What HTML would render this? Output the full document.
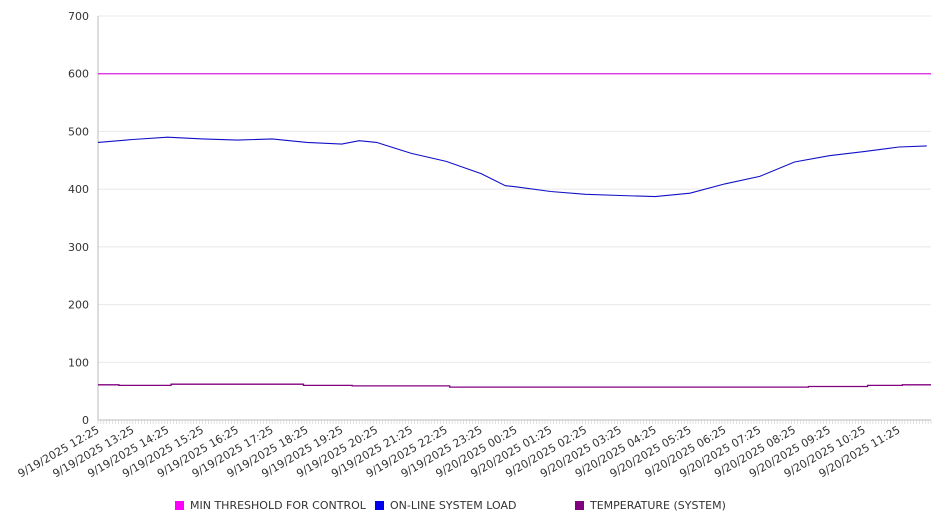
<!DOCTYPE html>
<html><head><meta charset="utf-8"><style>
body{margin:0;background:#fff;}
svg{display:block;font-family:"DejaVu Sans","Liberation Sans",sans-serif;}
</style></head><body>
<svg id="chart" width="946" height="526" xmlns="http://www.w3.org/2000/svg">
<g id="grid"></g>
<g id="yaxis"></g>
<g id="xaxis"></g>
<g id="series"></g>
<g id="legend"></g>
</svg>
<script>
const yTicks=[0,100,200,300,400,500,600,700];
const xLabels=["9/19/2025 12:25","9/19/2025 13:25","9/19/2025 14:25","9/19/2025 15:25","9/19/2025 16:25","9/19/2025 17:25","9/19/2025 18:25","9/19/2025 19:25","9/19/2025 20:25","9/19/2025 21:25","9/19/2025 22:25","9/19/2025 23:25","9/20/2025 00:25","9/20/2025 01:25","9/20/2025 02:25","9/20/2025 03:25","9/20/2025 04:25","9/20/2025 05:25","9/20/2025 06:25","9/20/2025 07:25","9/20/2025 08:25","9/20/2025 09:25","9/20/2025 10:25","9/20/2025 11:25"];
const loadHours=[0,1,2,3,4,5,6,7,7.5,8,9,10,11,11.7,12,13,14,15,16,17,18,19,20,21,22,23,23.8];
const loadValues=[481,486,490,487,485,487,481,478,484,481,462,448,427,406,404,396,391,389,387,393,409,422,447,458,465,473,475];
const tempHours=[0,0.6,2.1,5.9,7.3,10.1,20.4,22.1,23.1,23.8];
const tempValues=[61,60,62,60,59,57,58,60,61,61];
const thresholdValue=600;
const totalHours=23.92;

const X0=98,X1=931,Y0=420,Y1=16,NS="http://www.w3.org/2000/svg";
const xs=h=>X0+h/totalHours*(X1-X0);
const ys=v=>Y0-v/700*(Y0-Y1);
function mk(tag,attrs,parent,text){const e=document.createElementNS(NS,tag);for(const k in attrs)e.setAttribute(k,attrs[k]);if(text!==undefined)e.textContent=text;parent.appendChild(e);return e;}
const grid=document.getElementById('grid'),yax=document.getElementById('yaxis'),xax=document.getElementById('xaxis'),ser=document.getElementById('series'),leg=document.getElementById('legend');
yTicks.forEach(t=>{
  if(t>0){const g=mk('line',{x1:X0,x2:X1,y1:ys(t),y2:ys(t),stroke:'#e8e8e8','stroke-width':1},grid);
  
  }
  const l=mk('text',{x:89,y:ys(t)+4,'text-anchor':'end','font-size':11,fill:'#333'},yax,String(t));
  
  
});
mk('line',{x1:X0,x2:X0,y1:Y1,y2:Y0,stroke:'#bbb','stroke-width':1},yax);
mk('line',{x1:X0,x2:X1,y1:Y0,y2:Y0,stroke:'#bbb','stroke-width':1},xax);
for(let i=0;i<=287;i++){const x=X0+i*(X1-X0)/287;mk('line',{x1:x,x2:x,y1:Y0,y2:Y0+4,stroke:'#ccc','stroke-width':0.6},xax);}
xLabels.forEach((s,i)=>{
  const x=xs(i);
  const t=mk('text',{x:0,y:0,'text-anchor':'end','font-size':11,fill:'#333',transform:`translate(${x+2},${Y0+12}) rotate(-30)`},xax,s);
  
  
});
function line(hours,vals,color,name){
  const d=hours.map((h,i)=>(i?'L':'M')+xs(h).toFixed(1)+','+ys(vals[i]).toFixed(1)).join('');
  const p=mk('path',{d:d,fill:'none',stroke:color,'stroke-width':1.1},ser);
  
  
}
function stepLine(hours,vals,color,name){
  let d='';hours.forEach((h,i)=>{const x=xs(h).toFixed(1),y=ys(vals[i]).toFixed(1);d+=i?`H${x}V${y}`:`M${x},${y}`;});
  d+='H'+X1;
  const p=mk('path',{d:d,fill:'none',stroke:color,'stroke-width':1.3},ser);
  
  
}
const th=mk('line',{x1:X0,x2:X1,y1:ys(thresholdValue),y2:ys(thresholdValue),stroke:'#e020e0','stroke-width':1.2},ser);


line(loadHours,loadValues,'#1010c8','load-line');
stepLine(tempHours,tempValues,'#800080','temperature-line');
const items=[["MIN THRESHOLD FOR CONTROL","#ff00ff",175],["ON-LINE SYSTEM LOAD","#0000ee",375],["TEMPERATURE (SYSTEM)","#800080",575]];
items.forEach(it=>{
  const g=mk('g',{},leg);
  
  
  mk('rect',{x:it[2],y:501,width:9,height:9,fill:it[1]},g);
  mk('text',{x:it[2]+15,y:509,'font-size':11,fill:'#333'},g,it[0]);
});
</script>
</body></html>
